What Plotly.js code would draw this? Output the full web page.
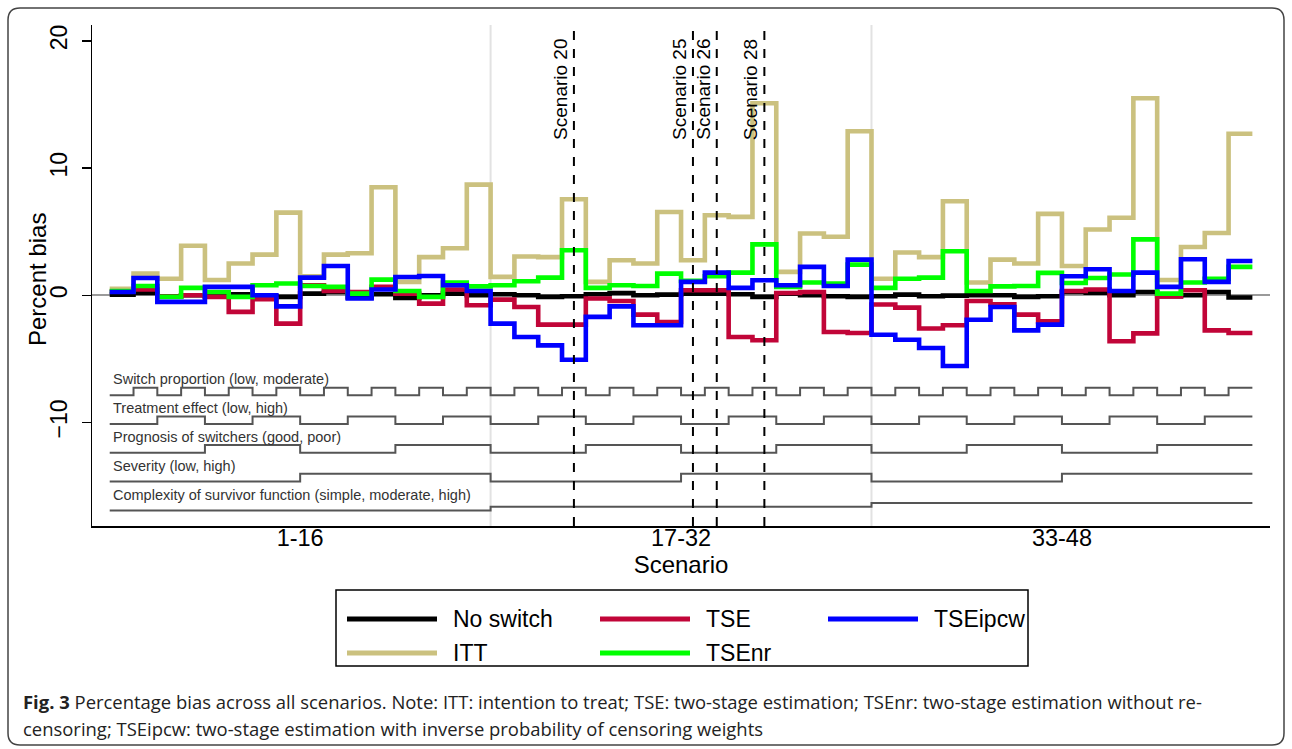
<!DOCTYPE html>
<html>
<head>
<meta charset="utf-8">
<script src="https://cdn.plot.ly/plotly-3.0.1.min.js"></script>
<style>
  html, body { margin: 0; padding: 0; background: #fff; }
  #chart { width: 1292px; height: 749px; }
</style>
</head>
<body>
<div id="chart"></div>
<script>
// ---------------- DATA ----------------
const scenarios = Array.from({length: 48}, (_, i) => i + 1);

const noSwitch = [0.05, 0.18, -0.08, 0.0, -0.08, 0.08, -0.08, -0.13, 0.13, 0.26, -0.18, 0.08, -0.21, 0.0, 0.13, 0.0,
                  0.08, 0.0, -0.13, -0.08, 0.08, 0.18, 0.0, 0.05, 0.13, 0.13, 0.08, -0.13, 0.13, 0.0, -0.08, -0.13,
                  -0.08, 0.05, -0.08, -0.03, 0.0, 0.0, -0.13, -0.08, 0.26, 0.21, 0.0, 0.26, -0.08, 0.0, 0.26, -0.18];

const itt = [0.5, 1.7, 1.3, 3.9, 1.2, 2.5, 3.2, 6.5, 1.5, 3.2, 3.3, 8.5, 1.05, 3.0, 3.7, 8.7,
             1.45, 3.05, 3.0, 7.55, 1.05, 2.75, 2.5, 6.55, 2.75, 6.3, 6.17, 15.1, 1.84, 4.86, 4.6, 12.9,
             1.3, 3.36, 3.0, 7.4, 1.0, 2.8, 2.5, 6.4, 2.3, 5.17, 6.1, 15.5, 1.2, 3.8, 4.9, 12.7];

const tse = [0.3, 0.45, -0.1, 0.0, -0.13, -1.31, -0.3, -2.23, 0.79, 0.34, 0.26, 0.66, 0.13, -0.66, 0.45, -0.79,
             -0.34, -0.92, -2.31, -2.31, -0.26, -0.45, -1.52, -2.1, 0.39, 0.39, -3.28, -3.54, 0.18, 0.26, -2.89, -2.97,
             -0.73, -0.97, -2.62, -2.36, -0.45, -0.71, -1.52, -2.05, 0.34, 0.45, -3.62, -3.0, -0.1, 0.4, -2.76, -2.97];

const tseNr = [0.34, 0.73, -0.13, 0.58, 0.26, -0.13, 0.79, 0.92, 0.73, 0.66, 0.13, 1.23, 0.34, -0.13, 1.0, 0.7,
               0.79, 1.1, 1.39, 3.54, 0.58, 0.79, 0.73, 1.7, 1.13, 1.5, 1.78, 4.0, 0.66, 1.0, 0.92, 2.41,
               0.58, 1.3, 1.39, 3.46, 0.34, 0.7, 0.73, 1.76, 0.97, 1.36, 1.63, 4.4, 0.13, 1.0, 1.3, 2.23];

const tseIpcw = [0.26, 1.36, -0.52, -0.52, 0.66, 0.66, 0.0, -0.87, 1.39, 2.3, -0.26, 0.45, 1.44, 1.52, 0.79, 0.34,
                 -2.23, -3.28, -3.94, -5.07, -1.7, -0.87, -2.36, -2.36, 1.05, 1.78, 0.58, 1.18, 0.79, 2.23, 0.73, 2.8,
                 -3.1, -3.5, -4.15, -5.56, -1.92, -0.92, -2.76, -2.31, 1.5, 2.05, 0.34, 1.78, 0.66, 2.83, 1.05, 2.7];

// design factor levels per scenario
const switchProportion = [0,1,0,1,0,1,0,1,0,1,0,1,0,1,0,1, 0,1,0,1,0,1,0,1,0,1,0,1,0,1,0,1, 0,1,0,1,0,1,0,1,0,1,0,1,0,1,0,1];
const treatmentEffect  = [0,0,1,1,0,0,1,1,0,0,1,1,0,0,1,1, 0,0,1,1,0,0,1,1,0,0,1,1,0,0,1,1, 0,0,1,1,0,0,1,1,0,0,1,1,0,0,1,1];
const prognosis        = [0,0,0,0,1,1,1,1,0,0,0,0,1,1,1,1, 0,0,0,0,1,1,1,1,0,0,0,0,1,1,1,1, 0,0,0,0,1,1,1,1,0,0,0,0,1,1,1,1];
const severity         = [0,0,0,0,0,0,0,0,1,1,1,1,1,1,1,1, 0,0,0,0,0,0,0,0,1,1,1,1,1,1,1,1, 0,0,0,0,0,0,0,0,1,1,1,1,1,1,1,1];
const complexity       = [0,0,0,0,0,0,0,0,0,0,0,0,0,0,0,0, 1,1,1,1,1,1,1,1,1,1,1,1,1,1,1,1, 2,2,2,2,2,2,2,2,2,2,2,2,2,2,2,2];

const factorLabels = ["Switch proportion (low, moderate)", "Treatment effect (low, high)",
                      "Prognosis of switchers (good, poor)", "Severity (low, high)",
                      "Complexity of survivor function (simple, moderate, high)"];

const groupLabels = ["1-16", "17-32", "33-48"];
const highlighted = [20, 25, 26, 28];

const seriesNames = ["No switch", "ITT", "TSE", "TSEnr", "TSEipcw"];
const seriesData = [noSwitch, itt, tse, tseNr, tseIpcw];

// ---------------- STYLE / LAYOUT ----------------
const colors = {"No switch": "#000000", "ITT": "#cbc17f", "TSE": "#c10538", "TSEnr": "#00ff00", "TSEipcw": "#0000ff"};
const W = 1292, H = 749, ML = 92, MR = 22, MT = 25, MB = 223;
const PW = W - ML - MR, PH = H - MT - MB;
const px = p => (p - ML) / PW;
const py = p => (H - MB - p) / PH;
const FONT = "'Liberation Sans', Arial, sans-serif";

// step helper: scenario i spans [i-0.5, i+0.5]
function stepX(xs) { return xs.map(v => v - 0.5).concat([xs[xs.length - 1] + 0.5]); }
function stepY(ys) { return ys.concat([ys[ys.length - 1]]); }

const traces = [];
seriesNames.forEach((name, k) => {
  traces.push({
    type: "scatter", mode: "lines", name: name,
    x: stepX(scenarios), y: stepY(seriesData[k]),
    line: {shape: "hv", color: colors[name], width: 4.6},
    showlegend: false, hoverinfo: "skip"
  });
});

const factors = [switchProportion, treatmentEffect, prognosis, severity, complexity];
const factorBase = [-7.87, -10.13, -12.39, -14.65, -16.93];
const factorStep = [0.6, 0.6, 0.61, 0.61, 0.29];
const factorLabelY = [-6.6, -8.9, -11.15, -13.42, -15.68];
factors.forEach((lev, k) => {
  traces.unshift({
    type: "scatter", mode: "lines",
    x: stepX(scenarios), y: stepY(lev.map(v => factorBase[k] + v * factorStep[k])),
    line: {shape: "hv", color: "#555555", width: 2},
    showlegend: false, hoverinfo: "skip"
  });
});

const shapes = [];
// group separators
[16.5, 32.5].forEach(xv => shapes.push({type: "line", xref: "x", yref: "paper", x0: xv, x1: xv, y0: 0, y1: 1,
  line: {color: "#e2e2e2", width: 2}, layer: "below"}));
// highlighted scenarios
highlighted.forEach(s => shapes.push({type: "line", xref: "x", yref: "paper", x0: s, x1: s, y0: 0, y1: 1,
  line: {color: "#000", width: 2, dash: "dash"}}));

const annotations = [];
highlighted.forEach(s => annotations.push({
  xref: "x", yref: "paper", x: s, y: py(37), xanchor: "right", yanchor: "top", xshift: -1,
  text: "Scenario " + s, textangle: -90, showarrow: false,
  font: {family: FONT, size: 19, color: "#000"}
}));
factorLabels.forEach((t, k) => annotations.push({
  xref: "x", yref: "y", x: 0.5, y: factorLabelY[k], xanchor: "left", yanchor: "middle", xshift: 1,
  text: t, showarrow: false, font: {family: FONT, size: 14.5, color: "#333"}
}));

// y-axis title
annotations.push({xref: "paper", yref: "paper", x: px(37), y: py(279), xanchor: "center", yanchor: "middle",
  text: "Percent bias", textangle: -90, showarrow: false, font: {family: FONT, size: 24, color: "#000"}});

// manual legend
const legendItems = [["No switch", 347, 619], ["TSE", 600, 619], ["TSEipcw", 828, 619],
                     ["ITT", 347, 653], ["TSEnr", 600, 653]];
shapes.push({type: "rect", xref: "paper", yref: "paper", x0: px(336), x1: px(1028), y0: py(590), y1: py(666),
  line: {color: "#000", width: 1.5}, fillcolor: "rgba(0,0,0,0)"});
legendItems.forEach(([name, x, y]) => {
  shapes.push({type: "line", xref: "paper", yref: "paper", x0: px(x), x1: px(x + 90), y0: py(y), y1: py(y),
    line: {color: colors[name], width: 5}});
  annotations.push({xref: "paper", yref: "paper", x: px(x + 104), y: py(y), xanchor: "left", yanchor: "middle",
    text: name, showarrow: false, font: {family: FONT, size: 23, color: "#000"}});
});

// caption
const capFont = {family: "'Open Sans', 'Noto Sans', sans-serif", size: 18.45, color: "#222"};
annotations.push({xref: "paper", yref: "paper", x: px(21), y: py(701), xanchor: "left", yanchor: "middle", showarrow: false,
  text: "<b>Fig. 3</b> Percentage bias across all scenarios. Note: ITT: intention to treat; TSE: two-stage estimation; TSEnr: two-stage estimation without re-",
  font: capFont});
annotations.push({xref: "paper", yref: "paper", x: px(21), y: py(728), xanchor: "left", yanchor: "middle", showarrow: false,
  text: "censoring; TSEipcw: two-stage estimation with inverse probability of censoring weights",
  font: capFont});

// rounded outer frame
(function () {
  const x0 = 8, y0 = 8, x1 = 1284, y1 = 745, r = 12;
  const X = px, Y = py;
  const d = `M${X(x0 + r)},${Y(y0)} L${X(x1 - r)},${Y(y0)} Q${X(x1)},${Y(y0)} ${X(x1)},${Y(y0 + r)} ` +
            `L${X(x1)},${Y(y1 - r)} Q${X(x1)},${Y(y1)} ${X(x1 - r)},${Y(y1)} ` +
            `L${X(x0 + r)},${Y(y1)} Q${X(x0)},${Y(y1)} ${X(x0)},${Y(y1 - r)} ` +
            `L${X(x0)},${Y(y0 + r)} Q${X(x0)},${Y(y0)} ${X(x0 + r)},${Y(y0)} Z`;
  shapes.push({type: "path", xref: "paper", yref: "paper", path: d, line: {color: "#444", width: 1.5}});
})();

const layout = {
  width: W, height: H,
  margin: {l: ML, r: MR, t: MT, b: MB, pad: 0},
  paper_bgcolor: "#fff", plot_bgcolor: "#fff",
  showlegend: false,
  font: {family: FONT, color: "#000"},
  xaxis: {
    range: [-0.244, 49.24], showgrid: false, zeroline: false,
    showline: true, linecolor: "#000", linewidth: 1.5,
    tickvals: [8.5, 24.5, 40.5], ticktext: groupLabels, ticks: "",
    ticklabelstandoff: -10,
    tickfont: {family: FONT, size: 23.5, color: "#000"},
    title: {text: "Scenario", font: {family: FONT, size: 24, color: "#000"}, standoff: 2}
  },
  yaxis: {
    range: [-18.15, 21.26], showgrid: false,
    zeroline: true, zerolinecolor: "#9a9a9a", zerolinewidth: 2,
    showline: true, linecolor: "#000", linewidth: 1.5,
    tickvals: [-10, 0, 10, 20], ticks: "outside", ticklen: 9, tickcolor: "#000", tickwidth: 1.5,
    tickangle: -90, ticklabelstandoff: 5, tickfont: {family: FONT, size: 23, color: "#000"}
  },
  shapes: shapes,
  annotations: annotations
};

Plotly.newPlot("chart", traces, layout, {displayModeBar: false, staticPlot: true});
</script>
</body>
</html>
